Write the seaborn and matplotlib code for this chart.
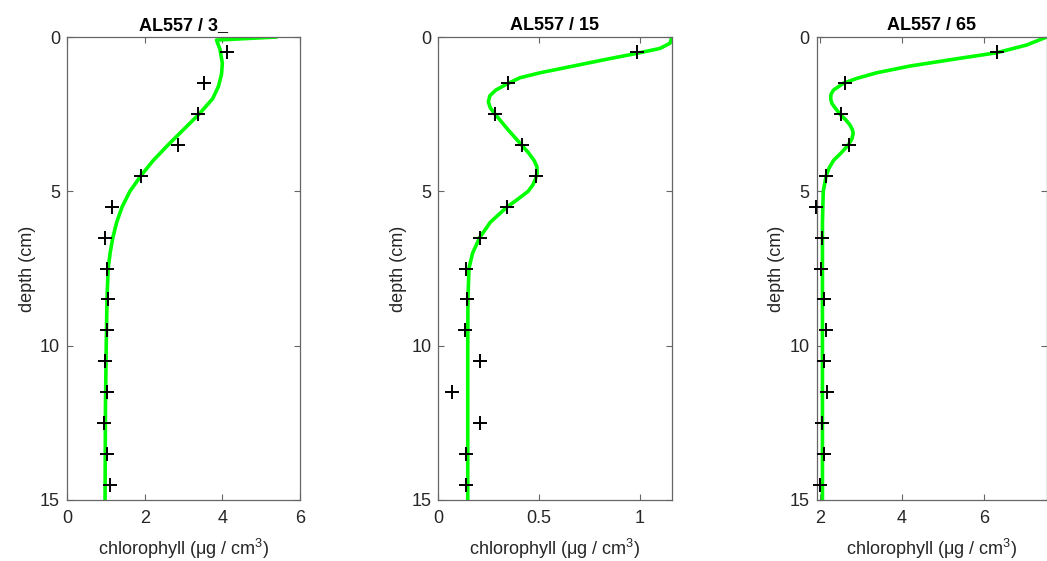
import matplotlib
matplotlib.use("Agg")
import matplotlib.pyplot as plt
import seaborn as sns

# sample depths (cm) for the + markers
depth = [0.5, 1.5, 2.5, 3.5, 4.5, 5.5, 6.5, 7.5, 8.5, 9.5, 10.5, 11.5, 12.5, 13.5, 14.5]

# measured chlorophyll per station
chl_3 = [4.13, 3.53, 3.38, 2.86, 1.90, 1.15, 0.98, 1.03, 1.05, 1.03, 0.98, 1.03, 0.95, 1.03, 1.10]
chl_15 = [0.984, 0.347, 0.280, 0.413, 0.486, 0.342, 0.205, 0.137, 0.141, 0.134, 0.208, 0.066, 0.208, 0.139, 0.139]
chl_65 = [6.31, 2.61, 2.51, 2.70, 2.15, 1.91, 2.04, 2.02, 2.11, 2.15, 2.11, 2.16, 2.06, 2.10, 2.00]

# fitted profiles (green curves)
fit_depth_3 = [0, 0.1, 0.4, 0.85, 1.2, 1.6, 2.0, 2.5, 3.0, 3.5, 4.0, 4.5, 5.0, 5.5, 6.0, 6.5, 7.0, 7.5, 8.5, 10, 12, 15]
fit_chl_3 = [5.40, 3.85, 3.94, 4.00, 3.98, 3.90, 3.75, 3.40, 3.00, 2.60, 2.22, 1.90, 1.62, 1.42, 1.28, 1.18, 1.11, 1.06, 1.03, 1.01, 0.99, 0.98]

fit_depth_15 = [0, 0.2, 0.37, 0.53, 0.72, 0.94, 1.16, 1.32, 1.5, 1.72, 1.9, 2.1, 2.3, 2.5, 3.0, 3.5, 3.75, 4.0, 4.2,
                4.4, 4.6, 4.8, 5.0, 5.25, 5.5, 6.0, 6.5, 7.0, 7.5, 8.5, 10, 15]
fit_chl_15 = [1.157, 1.149, 1.099, 0.984, 0.835, 0.670, 0.504, 0.405, 0.347, 0.285, 0.256, 0.248, 0.258, 0.282, 0.345,
              0.413, 0.447, 0.475, 0.489, 0.490, 0.482, 0.468, 0.445, 0.395, 0.342, 0.258, 0.205, 0.170, 0.152, 0.147,
              0.146, 0.146]

fit_depth_65 = [0, 0.26, 0.51, 0.69, 0.94, 1.16, 1.34, 1.5, 1.72, 1.85, 2.0, 2.15, 2.3, 2.53, 2.7, 2.85, 3.0, 3.12,
                3.3, 3.5, 3.75, 4.0, 4.25, 4.5, 5.0, 6.0, 15]
fit_chl_65 = [7.53, 7.04, 6.31, 5.41, 4.20, 3.38, 2.90, 2.57, 2.33, 2.27, 2.26, 2.29, 2.37, 2.51, 2.64, 2.73, 2.79,
              2.81, 2.78, 2.69, 2.52, 2.33, 2.22, 2.15, 2.08, 2.06, 2.06]

titles = ["AL557 / 3_", "AL557 / 15", "AL557 / 65"]
xlims = [(0, 6), (0, 1.157), (1.92, 7.53)]
xticks = [[0, 2, 4, 6], [0, 0.5, 1], [2, 4, 6]]
xticklabels = [["0", "2", "4", "6"], ["0", "0.5", "1"], ["2", "4", "6"]]
yticks = [0, 5, 10, 15]

sns.set_style("white")
plt.rcParams["font.family"] = ["Liberation Sans", "DejaVu Sans"]
plt.rcParams["mathtext.fontset"] = "custom"
plt.rcParams["mathtext.rm"] = "Liberation Sans"
plt.rcParams["mathtext.it"] = "Liberation Sans:italic"

fig = plt.figure(figsize=(10.47, 5.61), dpi=100)
lefts = [67 / 1047, 438.3 / 1047, 816.7 / 1047]
widths = [233 / 1047, 233.4 / 1047, 230 / 1047]
bottom, height = 61 / 561, 463 / 561

data = [
    (chl_3, fit_depth_3, fit_chl_3),
    (chl_15, fit_depth_15, fit_chl_15),
    (chl_65, fit_depth_65, fit_chl_65),
]

frame = "#666666"
txt = "#262626"

for i, (chl, fd, fc) in enumerate(data):
    ax = fig.add_axes([lefts[i], bottom, widths[i], height])
    sns.lineplot(x=fc, y=fd, sort=False, estimator=None, color="#00ff00",
                 linewidth=2.6, ax=ax)
    sns.scatterplot(x=chl, y=depth, marker="+", color="black", s=90,
                    linewidth=1.4, ax=ax, zorder=3, clip_on=False)
    ax.set_xlim(*xlims[i])
    ax.set_ylim(15, 0)
    ax.set_xticks(xticks[i])
    ax.set_xticklabels(xticklabels[i])
    ax.set_yticks(yticks)
    ax.tick_params(direction="in", length=4, width=0.8, color=frame,
                   labelcolor=txt, labelsize=13, top=True, right=True,
                   bottom=True, left=True, pad=7)
    ax.tick_params(axis="y", pad=5)
    for sp in ax.spines.values():
        sp.set_visible(True)
        sp.set_color(frame)
        sp.set_linewidth(0.9)
    ax.set_title(titles[i], fontsize=13, fontweight="bold", color="black", pad=5)
    ax.set_xlabel("chlorophyll (μg / cm$^3$)", fontsize=13, color=txt, labelpad=7)
    ax.set_ylabel("depth (cm)", fontsize=13, color=txt, labelpad=3)

plt.savefig("out.png", dpi=100)
